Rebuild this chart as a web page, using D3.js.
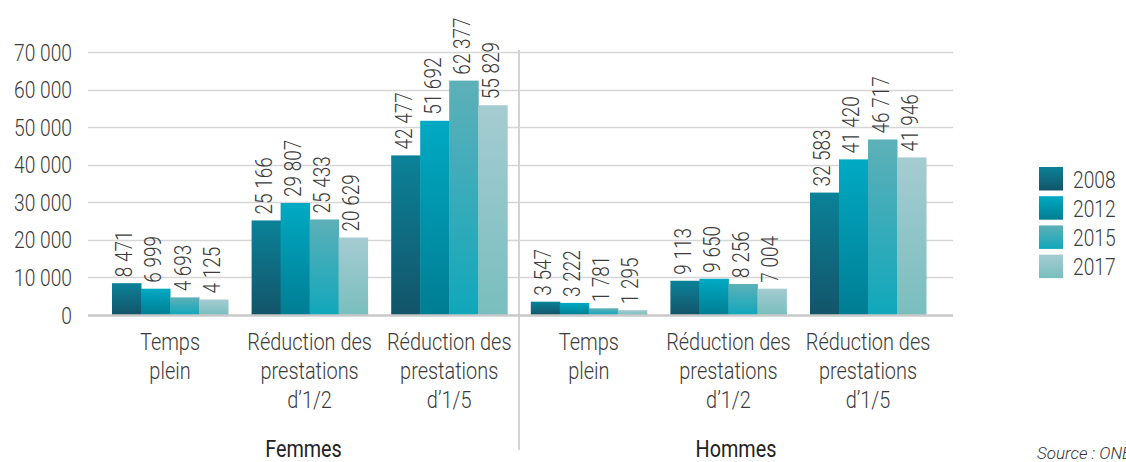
<!DOCTYPE html>
<html>
<head>
<meta charset="utf-8">
<script src="https://cdn.jsdelivr.net/npm/d3@7"></script>
<style>
  body { margin: 0; background: #fff; }
  svg text { font-family: Roboto, "Noto Sans", sans-serif; fill: #3b3b3b; }
</style>
</head>
<body>
<svg id="chart" width="1126" height="462"></svg>
<script>
// data
const groups = ['Femmes', 'Hommes']
const categories = [
  ['Temps', 'plein'],
  ['Réduction des', 'prestations', 'd’1/2'],
  ['Réduction des', 'prestations', 'd’1/5'],
  ['Temps', 'plein'],
  ['Réduction des', 'prestations', 'd’1/2'],
  ['Réduction des', 'prestations', 'd’1/5']
]
const years = ['2008', '2012', '2015', '2017']
const v2008 = [8471, 25166, 42477, 3547, 9113, 32583]
const v2012 = [6999, 29807, 51692, 3222, 9650, 41420]
const v2015 = [4693, 25433, 62377, 1781, 8256, 46717]
const v2017 = [4125, 20629, 55829, 1295, 7004, 41946]
const yTicks = [0, 10000, 20000, 30000, 40000, 50000, 60000, 70000]
const source = 'Source : ONEM'

const series = [v2008, v2012, v2015, v2017]
const gradients = [
  ['#0b8298', '#135469'],
  ['#00aac3', '#007d93'],
  ['#5eb0b8', '#10a7bb'],
  ['#a5ccd1', '#79bebe']
]

const svg = d3.select('#chart')
const plotLeft = 88, plotRight = 953, plotTop = 52, plotBottom = 315
const condense = 0.8

const fr = d3.formatLocale({ decimal: ',', thousands: ' ', grouping: [3], currency: ['', ''] })
const fmt = fr.format(',d')

// squeeze Roboto so it looks like the condensed face of the original
function squeeze(sel, k) {
  sel.each(function() {
    let len = this.getComputedTextLength()
    d3.select(this).attr('textLength', len * (k || condense)).attr('lengthAdjust', 'spacingAndGlyphs')
  })
}

let defs = svg.append('defs')
gradients.forEach((g, i) => {
  let lg = defs.append('linearGradient')
    .attr('id', 'grad' + i)
    .attr('x1', 0).attr('y1', 0).attr('x2', 0).attr('y2', 1)
  lg.append('stop').attr('offset', '0%').attr('stop-color', g[0])
  lg.append('stop').attr('offset', '100%').attr('stop-color', g[1])
})

let y = d3.scaleLinear().domain([0, 70000]).range([plotBottom, plotTop])

let x0 = d3.scaleBand()
  .domain(d3.range(categories.length))
  .range([100.2, 937.8])
  .paddingInner(0.169)
  .paddingOuter(0.0845)

let x1 = d3.scaleBand()
  .domain(d3.range(years.length))
  .range([0, x0.bandwidth()])

// grid
svg.append('g').selectAll('line').data(yTicks.slice(1)).enter().append('line')
  .attr('x1', plotLeft).attr('x2', plotRight)
  .attr('y1', d => Math.round(y(d)) + 0.5).attr('y2', d => Math.round(y(d)) + 0.5)
  .style('stroke', '#d6d6d6').style('stroke-width', 1.5)

// y labels
let yl = svg.append('g').selectAll('text').data(yTicks).enter().append('text')
  .attr('x', 72).attr('y', d => y(d))
  .attr('dy', '0.36em')
  .attr('text-anchor', 'end')
  .style('font-size', '24px').style('font-weight', 300)
  .text(d => fmt(d))
squeeze(yl)

// divider between Femmes and Hommes
let mid = (x0(2) + x0.bandwidth() + x0(3)) / 2
svg.append('line')
  .attr('x1', mid).attr('x2', mid).attr('y1', 50).attr('y2', 450)
  .style('stroke', '#d3d3d3').style('stroke-width', 2)

// bars
let cat = svg.append('g').selectAll('g.cat').data(categories).enter().append('g')
  .attr('class', 'cat')
  .attr('transform', (d, i) => `translate(${ x0(i) },0)`)

cat.selectAll('rect').data((d, i) => series.map((s, j) => ({ j: j, v: s[i] }))).enter().append('rect')
  .attr('x', d => x1(d.j))
  .attr('width', x1.bandwidth() + 0.5)
  .attr('y', d => y(d.v))
  .attr('height', d => plotBottom - y(d.v))
  .style('fill', d => `url(#grad${ d.j })`)

// baseline
svg.append('line')
  .attr('x1', plotLeft).attr('x2', plotRight).attr('y1', plotBottom + 0.5).attr('y2', plotBottom + 0.5)
  .style('stroke', '#c9c9c9').style('stroke-width', 2.5)

// value labels
let vl = cat.selectAll('text.val').data((d, i) => series.map((s, j) => ({ j: j, v: s[i] }))).enter().append('text')
  .attr('class', 'val')
  .attr('transform', d => `translate(${ x1(d.j) + x1.bandwidth() / 2 + 6 },${ y(d.v) - 6 }) rotate(-90)`)
  .style('font-size', '24px').style('font-weight', 300)
  .text(d => fmt(d.v))
squeeze(vl, 0.79)

// category labels
let cl = cat.append('text')
  .attr('text-anchor', 'middle')
  .style('font-size', '24px').style('font-weight', 300)
cl.selectAll('tspan').data(d => d).enter().append('tspan')
  .attr('x', x0.bandwidth() / 2)
  .attr('y', (d, i) => 350 + i * 29)
  .text(d => d)
cl.selectAll('tspan').call(squeeze, 0.83)

// group labels
let gl = svg.append('g').selectAll('text').data(groups).enter().append('text')
  .attr('x', (d, i) => i === 0 ? (plotLeft + mid) / 2 : (mid + plotRight) / 2)
  .attr('y', 457)
  .attr('text-anchor', 'middle')
  .style('font-size', '23px').style('font-weight', 400)
  .style('fill', '#222')
  .text(d => d)
squeeze(gl, 0.86)

// legend
let legend = svg.append('g').attr('transform', 'translate(1039,167)')
let li = legend.selectAll('g').data(years).enter().append('g')
  .attr('transform', (d, i) => `translate(0,${ i * 29.2 })`)
li.append('rect').attr('width', 24).attr('height', 23.5)
  .style('fill', (d, i) => `url(#grad${ i })`)
let lt = li.append('text')
  .attr('x', 34).attr('y', 12).attr('dy', '0.36em')
  .style('font-size', '24px').style('font-weight', 300)
  .text(d => d)
squeeze(lt)

// source, runs off the right edge like in the original
svg.append('text')
  .attr('x', 1037).attr('y', 459)
  .style('font-size', '17px').style('font-style', 'italic').style('font-weight', 300)
  .style('fill', '#333')
  .text(source)
</script>
</body>
</html>
